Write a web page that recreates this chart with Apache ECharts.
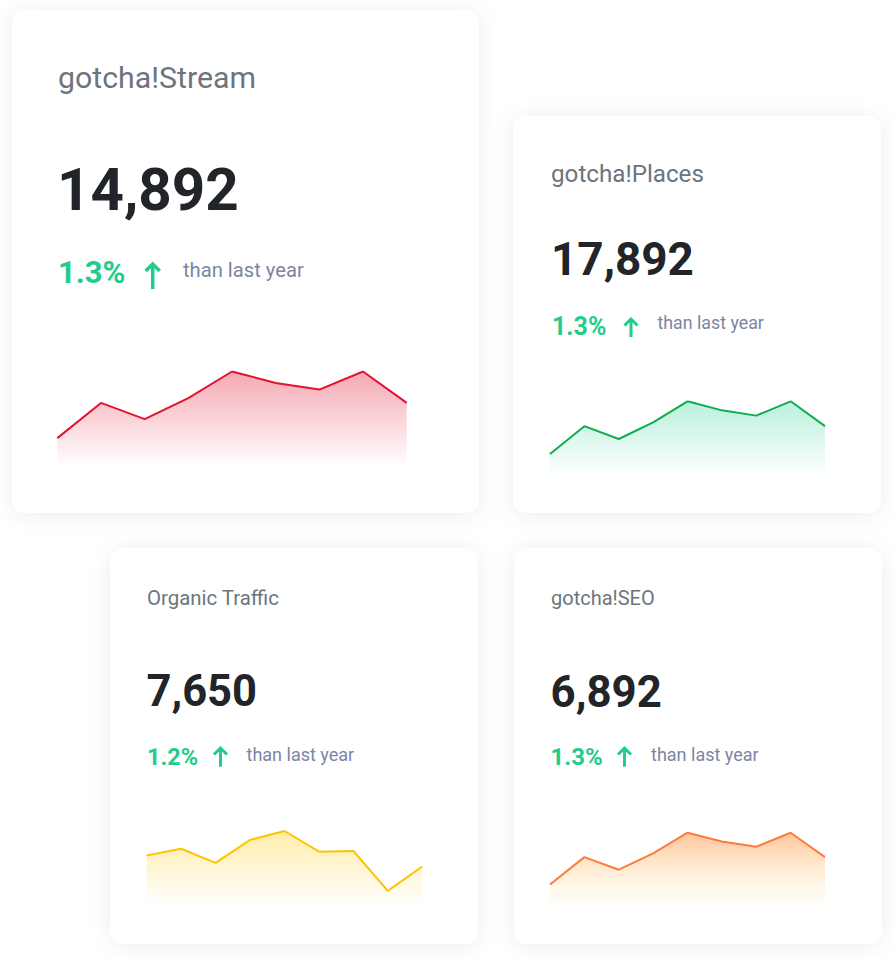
<!DOCTYPE html>
<html>
<head>
<meta charset="utf-8">
<script src="https://cdn.jsdelivr.net/npm/echarts@6/dist/echarts.min.js"></script>
<style>
html,body{margin:0;padding:0;background:#fff;}
#c{width:895px;height:959px;}
</style>
</head>
<body>
<div id="c"></div>
<script>
// ---- data ----
var categories = ['Jan','Feb','Mar','Apr','May','Jun','Jul','Aug','Sep'];
var streamValues  = [30, 67, 50, 72, 100, 88, 81, 100, 67];
var placesValues  = [30, 67, 50, 72, 100, 88, 81, 100, 67];
var organicValues = [67, 76, 57, 88, 100, 72, 73, 19, 52];
var seoValues     = [30, 67, 50, 72, 100, 88, 81, 100, 67];
var cardTitles  = ['gotcha!Stream', 'gotcha!Places', 'Organic Traffic', 'gotcha!SEO'];
var cardTotals  = ['14,892', '17,892', '7,650', '6,892'];
var cardChanges = ['1.3%', '1.3%', '1.2%', '1.3%'];
var compareText = 'than last year';

// ---- layout ----
var FONT = 'Roboto, "Noto Sans", sans-serif';
var GREEN = '#22cc8a';
var cards = [
  {x:12, y:10, w:467, h:503,  grid:{left:57.3, top:371.5, width:349.4, height:95.2},
   title:{x:58, y:77.3, s:30.3}, total:{x:57, y:190, s:58.4}, pct:{x:58, y:272.8, s:31},
   arrow:{cx:152.7, top:263, bottom:289, lw:3.5, hw:7}, cmp:{x:183, y:270, s:20.2},
   line:'#e3122f', area:['rgba(227,18,47,0.52)','rgba(227,18,47,0)']},
  {x:513, y:116, w:368, h:397, grid:{left:550, top:401.3, width:275, height:75.4},
   title:{x:551, y:173.7, s:24.2}, total:{x:551, y:259.2, s:45.9}, pct:{x:552, y:326.7, s:25},
   arrow:{cx:631, top:318, bottom:337, lw:3, hw:6.5}, cmp:{x:657.5, y:322.4, s:17.8},
   line:'#0cae4e', area:['rgba(52,211,153,0.48)','rgba(52,211,153,0)']},
  {x:110, y:548, w:368, h:396, grid:{left:146.7, top:831, width:275.6, height:74},
   title:{x:147, y:598.4, s:20.4}, total:{x:146.5, y:691.7, s:43.5}, pct:{x:147, y:756.5, s:23.5},
   arrow:{cx:220.5, top:747, bottom:766.7, lw:3, hw:6.5}, cmp:{x:246.5, y:754, s:18},
   line:'#ffc400', area:['rgba(255,200,10,0.5)','rgba(255,200,10,0)']},
  {x:514, y:548, w:368, h:396, grid:{left:550, top:832.7, width:275, height:74},
   title:{x:551, y:597.9, s:20}, total:{x:550.5, y:691.7, s:43.8}, pct:{x:550.5, y:756.5, s:24},
   arrow:{cx:624.5, top:747, bottom:766.7, lw:3, hw:6.5}, cmp:{x:651, y:754, s:18},
   line:'#ff7a3d', area:['rgba(255,140,60,0.72)','rgba(255,225,130,0.04)']}
];
var seriesData = [streamValues, placesValues, organicValues, seoValues];

var graphic = [];
var grids = [], xAxes = [], yAxes = [], series = [];
function txt(x, y, text, size, weight, color) {
  return {type:'text', x:x, y:y, z:10,
    style:{text:text, fill:color, fontSize:size, fontWeight:weight, fontFamily:FONT,
      textAlign:'left', align:'left', textVerticalAlign:'middle', verticalAlign:'middle'}};
}
cards.forEach(function(c, i){
  graphic.push({type:'rect', z:0, shape:{x:c.x, y:c.y, width:c.w, height:c.h, r:14},
    style:{fill:'#ffffff', shadowBlur:22, shadowColor:'rgba(0,0,0,0.07)', shadowOffsetY:2}});
  graphic.push(txt(c.title.x, c.title.y, cardTitles[i], c.title.s, 'normal', '#6c757d'));
  graphic.push(txt(c.total.x, c.total.y, cardTotals[i], c.total.s, 'bold', '#212529'));
  graphic.push(txt(c.pct.x, c.pct.y, cardChanges[i], c.pct.s, 'bold', GREEN));
  graphic.push(txt(c.cmp.x, c.cmp.y, compareText, c.cmp.s, 'normal', '#7e84a3'));
  var a = c.arrow;
  graphic.push({type:'line', z:10, shape:{x1:a.cx, y1:a.top+2, x2:a.cx, y2:a.bottom},
    style:{stroke:GREEN, lineWidth:a.lw}});
  graphic.push({type:'polyline', z:10, shape:{points:[[a.cx-a.hw, a.top+a.hw+1],[a.cx, a.top+1],[a.cx+a.hw, a.top+a.hw+1]]},
    style:{stroke:GREEN, lineWidth:a.lw, fill:null, lineJoin:'miter', lineCap:'butt'}});

  grids.push(c.grid);
  xAxes.push({type:'category', gridIndex:i, data:categories, boundaryGap:false, show:false});
  yAxes.push({type:'value', gridIndex:i, min:0, max:100, show:false});
  series.push({type:'line', xAxisIndex:i, yAxisIndex:i, data:seriesData[i], symbol:'none',
    smooth:false, z:5,
    lineStyle:{color:c.line, width:2},
    areaStyle:{color:new echarts.graphic.LinearGradient(0,0,0,1,[
      {offset:0, color:c.area[0]}, {offset:1, color:c.area[1]}])}});
});

var chart = echarts.init(document.getElementById('c'), null, {renderer:'svg'});
chart.setOption({
  animation:false,
  backgroundColor:'#ffffff',
  grid:grids, xAxis:xAxes, yAxis:yAxes, series:series,
  graphic:graphic
});
</script>
</body>
</html>
